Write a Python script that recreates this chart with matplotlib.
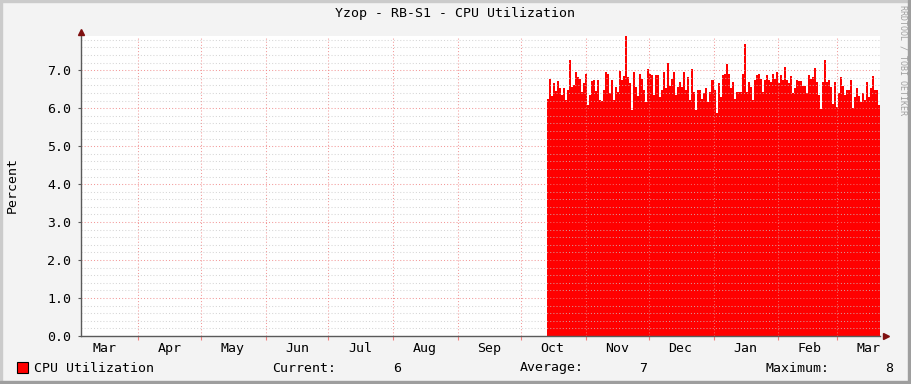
import datetime as dt
import matplotlib
matplotlib.use('Agg')
import matplotlib.pyplot as plt
import matplotlib.dates as mdates
from matplotlib.patches import Rectangle
from matplotlib.ticker import MultipleLocator, NullFormatter
import numpy as np

# =============================================================================
# data (about one sample per ~0.95 day)
# =============================================================================
title = "Yzop - RB-S1 - CPU Utilization"
ylabel = "Percent"
series_name = "CPU Utilization"
view_start = dt.datetime(2010, 3, 4, 19)
view_end = dt.datetime(2011, 3, 21, 12)
data_start = dt.datetime(2010, 10, 13, 10)

cpu = [
    6.24, 6.78, 6.32, 6.65, 6.45, 6.71, 6.52, 6.35, 6.52, 6.21,
    6.49, 7.28, 6.56, 6.61, 6.96, 6.82, 6.78, 6.43, 6.67, 6.89,
    6.08, 6.34, 6.72, 6.74, 6.45, 6.74, 6.21, 6.18, 6.47, 6.96,
    6.91, 6.40, 6.74, 6.21, 6.56, 6.43, 6.98, 6.74, 6.84, 7.89,
    6.82, 6.65, 5.96, 6.96, 6.56, 6.32, 6.91, 6.78, 6.47, 6.17,
    7.02, 6.91, 6.87, 6.34, 6.87, 6.87,
    6.30, 6.47, 6.96, 6.54, 7.18, 6.58, 6.78, 6.96, 6.34, 6.56,
    6.69, 6.56, 6.96, 6.47, 6.82, 6.21, 7.04, 6.43, 5.95, 6.49,
    6.49, 6.25, 6.40, 6.52, 6.17, 6.43, 6.75, 6.49, 5.88, 6.65,
    6.30, 6.87, 6.91, 7.16, 6.91, 6.52, 6.69, 6.24, 6.43, 6.43,
    6.43, 6.91, 7.70, 6.43, 6.69, 6.56, 6.21, 6.74, 6.87, 6.91,
    6.78, 6.43, 6.74, 6.87, 6.74, 6.69, 6.91, 6.78,
    6.96, 6.65, 6.87, 6.74, 7.09, 6.74, 6.65, 6.84, 6.39, 6.54,
    6.75, 6.71, 6.72, 6.58, 6.58, 6.39, 6.87, 6.78, 6.82, 7.07,
    6.69, 6.34, 5.99, 6.69, 7.26, 6.69, 6.74, 6.56, 6.11, 6.69,
    6.04, 6.39, 6.82, 6.58, 6.34, 6.49, 6.47, 6.75, 6.01, 6.30,
    6.54, 6.32, 6.17, 6.39, 6.21, 6.69, 6.30, 6.52, 6.84, 6.49,
    6.49, 6.08,
]

W, H = 911, 384
BG = '#f3f3f3'
FONT = 'DejaVu Sans Mono'

def fx(px):
  return px / W

def fy(py):
  return 1 - py / H

fig = plt.figure(figsize=(W / 100, H / 100), dpi=100, facecolor=BG)

# frame shading like rrdtool
fig.patches.append(Rectangle((0, fy(2)), 1, 2 / H, transform=fig.transFigure, color='#cbcbcb', zorder=0))
fig.patches.append(Rectangle((0, 0), 2 / W, 1, transform=fig.transFigure, color='#cbcbcb', zorder=0))
fig.patches.append(Rectangle((fx(908), 0), 3 / W, 1, transform=fig.transFigure, color='#9e9e9e', zorder=0))
fig.patches.append(Rectangle((0, 0), 1, 3 / H, transform=fig.transFigure, color='#9e9e9e', zorder=0))

ax = fig.add_axes([fx(81), fy(336), fx(880) - fx(81), fy(36) - fy(336)])
ax.set_facecolor('white')

# sample edges
n = len(cpu)
t0 = mdates.date2num(data_start)
t1 = mdates.date2num(view_end)
edges = np.linspace(t0, t1, n + 1)
ax.stairs(cpu, edges, fill=True, color='#ff0000', linewidth=0, zorder=1)

ax.set_xlim(mdates.date2num(view_start), mdates.date2num(view_end))
ax.set_ylim(0, 7.9)

# grid
ax.yaxis.set_major_locator(MultipleLocator(1.0))
ax.yaxis.set_minor_locator(MultipleLocator(0.2))
ax.yaxis.set_major_formatter(matplotlib.ticker.FormatStrFormatter('%.1f'))
ax.xaxis.set_major_locator(mdates.MonthLocator())
ax.xaxis.set_major_formatter(NullFormatter())
ax.xaxis.set_minor_locator(mdates.MonthLocator(bymonthday=16))
ax.xaxis.set_minor_formatter(mdates.DateFormatter('%b'))

ax.set_axisbelow(False)
ax.grid(which='minor', axis='y', color='#c8c8c8', linestyle=(0, (1, 2)), linewidth=0.75, alpha=0.75)
ax.grid(which='major', axis='y', color='#f08080', linestyle=(0, (1, 2)), linewidth=0.75, alpha=0.8)
ax.grid(which='major', axis='x', color='#f08080', linestyle=(0, (1, 2)), linewidth=0.75, alpha=0.8)

for s in ['top', 'right']:
  ax.spines[s].set_visible(False)
for s in ['left', 'bottom']:
  ax.spines[s].set_color('#5a5a5a')
  ax.spines[s].set_linewidth(1.0)
  ax.spines[s].set_zorder(3)

ax.tick_params(axis='y', which='major', length=2, color='#5a5a5a', labelsize=9.5, pad=5)
ax.tick_params(axis='y', which='minor', length=0)
ax.tick_params(axis='x', which='major', length=3, color='#f08080', pad=1)
ax.tick_params(axis='x', which='minor', length=0, labelsize=9.5, pad=4)
for lab in ax.get_xticklabels(which='both') + ax.get_yticklabels():
  lab.set_family(FONT)

# axis arrows
ax.plot([0], [1.012], marker='^', markersize=4, color='#7f1010', transform=ax.transAxes, clip_on=False, zorder=4)
ax.plot([1.008], [0], marker='>', markersize=4, color='#7f1010', transform=ax.transAxes, clip_on=False, zorder=4)

# texts
fig.text(fx(455), fy(14), title, ha='center', va='center', family=FONT, fontsize=9.5)
fig.text(fx(12), fy(185), ylabel, ha='center', va='center', rotation=90, family=FONT, fontsize=9.5)
fig.text(fx(903), fy(5), 'RRDTOOL / TOBI OETIKER', ha='center', va='top', rotation=270,
         family=FONT, fontsize=6, color='#a0a0a0')

ly = fy(368)
fig.patches.append(Rectangle((fx(17), fy(373)), 11 / W, 11 / H, transform=fig.transFigure,
                             facecolor='#ff0000', edgecolor='black', linewidth=0.8))
fig.text(fx(34), ly, series_name, ha='left', va='center', family=FONT, fontsize=9.5)
fig.text(fx(272), ly, 'Current:', ha='left', va='center', family=FONT, fontsize=9.5)
fig.text(fx(401), ly, '%.0f' % cpu[-1], ha='right', va='center', family=FONT, fontsize=9.5)
fig.text(fx(520), ly, 'Average:', ha='left', va='center', family=FONT, fontsize=9.5)
fig.text(fx(647), ly, '%.0f' % np.mean(cpu), ha='right', va='center', family=FONT, fontsize=9.5)
fig.text(fx(765), ly, 'Maximum:', ha='left', va='center', family=FONT, fontsize=9.5)
fig.text(fx(893), ly, '%.0f' % max(cpu), ha='right', va='center', family=FONT, fontsize=9.5)

fig.savefig('out.png', dpi=100, facecolor=BG)
